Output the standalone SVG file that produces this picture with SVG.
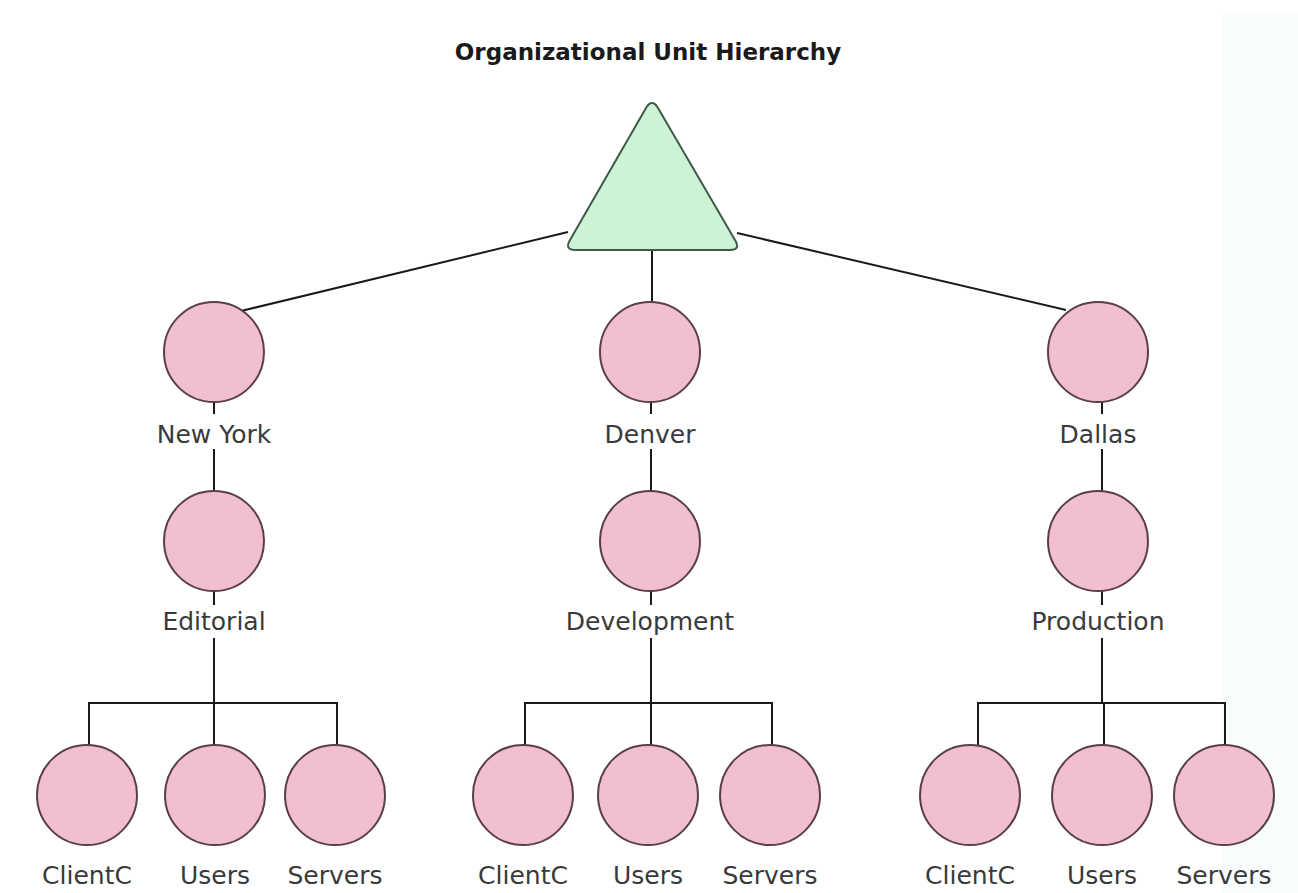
<svg xmlns="http://www.w3.org/2000/svg" width="1298" height="893" viewBox="0 0 1298 893">
<style>
.n{fill:#f2bfd2;stroke:#5a3f4a;stroke-width:2}
.t{fill:#cdf3d6;stroke:#3f5a48;stroke-width:2}
.c{stroke:#1a1a1a;stroke-width:2;fill:none}
.l{font-family:"DejaVu Sans",Verdana,sans-serif;font-size:25px;fill:#3a3a3a;text-anchor:middle}
.h{font-family:"DejaVu Sans",Verdana,sans-serif;font-size:23px;font-weight:bold;fill:#1a1a1a;text-anchor:middle}
</style>
<rect width="1298" height="893" fill="#ffffff"/>
<rect x="1222" y="12" width="76" height="881" fill="#f8fcfd"/>
<text class="h" x="648" y="60">Organizational Unit Hierarchy</text>
<g id="connectors">
<line class="c" x1="568" y1="232" x2="241" y2="311"/>
<line class="c" x1="737" y1="233" x2="1066" y2="310"/>
<line class="c" x1="652" y1="250" x2="652" y2="302"/>
<path class="c" d="M214 402V414M214 449V492M214 590V605M214 638V703"/>
<path class="c" d="M651 402V414M651 449V492M651 590V605M651 638V703"/>
<path class="c" d="M1102 402V414M1102 449V492M1102 590V605M1102 638V703"/>
<path class="c" d="M89 745V703H337V745M214 703V745"/>
<path class="c" d="M525 745V703H772V745M651 703V745"/>
<path class="c" d="M978 745V703H1225V745M1104 703V745"/>
</g>
<g id="root"><path class="t" d="M646 108Q652 98 658 108L735 240Q741 250 730 250L576 250Q564 250 570 240Z"/></g>
<g id="newyork"><circle class="n" cx="214" cy="352" r="50"/><text class="l" x="214" y="443">New York</text></g>
<g id="denver"><circle class="n" cx="650" cy="352" r="50"/><text class="l" x="650" y="443">Denver</text></g>
<g id="dallas"><circle class="n" cx="1098" cy="352" r="50"/><text class="l" x="1098" y="443">Dallas</text></g>
<g id="editorial"><circle class="n" cx="214" cy="541" r="50"/><text class="l" x="214" y="630">Editorial</text></g>
<g id="development"><circle class="n" cx="650" cy="541" r="50"/><text class="l" x="650" y="630">Development</text></g>
<g id="production"><circle class="n" cx="1098" cy="541" r="50"/><text class="l" x="1098" y="630">Production</text></g>
<g id="ny-clientc"><circle class="n" cx="87" cy="795" r="50"/><text class="l" x="87" y="884">ClientC</text></g>
<g id="ny-users"><circle class="n" cx="215" cy="795" r="50"/><text class="l" x="215" y="884">Users</text></g>
<g id="ny-servers"><circle class="n" cx="335" cy="795" r="50"/><text class="l" x="335" y="884">Servers</text></g>
<g id="de-clientc"><circle class="n" cx="523" cy="795" r="50"/><text class="l" x="523" y="884">ClientC</text></g>
<g id="de-users"><circle class="n" cx="648" cy="795" r="50"/><text class="l" x="648" y="884">Users</text></g>
<g id="de-servers"><circle class="n" cx="770" cy="795" r="50"/><text class="l" x="770" y="884">Servers</text></g>
<g id="da-clientc"><circle class="n" cx="970" cy="795" r="50"/><text class="l" x="970" y="884">ClientC</text></g>
<g id="da-users"><circle class="n" cx="1102" cy="795" r="50"/><text class="l" x="1102" y="884">Users</text></g>
<g id="da-servers"><circle class="n" cx="1224" cy="795" r="50"/><text class="l" x="1224" y="884">Servers</text></g>
</svg>
